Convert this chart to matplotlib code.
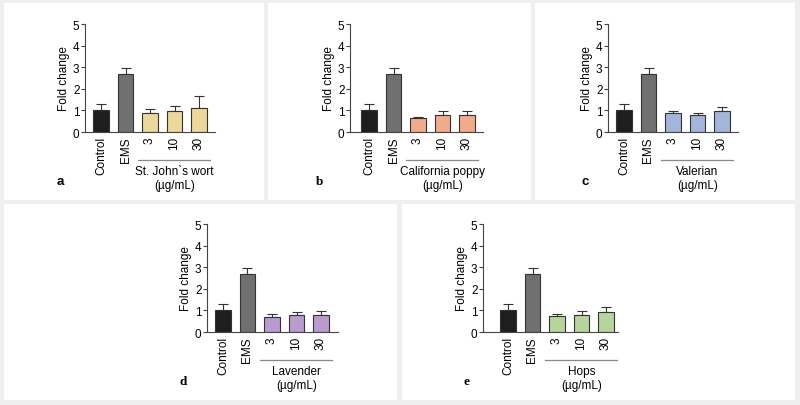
import matplotlib
matplotlib.use('Agg')
import matplotlib.pyplot as plt
from matplotlib.patches import Rectangle

plt.rcParams['font.family'] = ['Liberation Sans', 'DejaVu Sans']

W, H = 800, 406

groups = ['Control', 'EMS', '3', '10', '30']
herbs = ['St. John`s wort', 'California poppy', 'Valerian', 'Lavender', 'Hops']
letters = ['a', 'b', 'c', 'd', 'e']
herb_colors = ['#ecd898', '#f2aa8a', '#a4b5dc', '#b99bd0', '#b6d49b']

means_a = [1.0, 2.7, 0.87, 0.95, 1.1]
errs_a = [0.3, 0.27, 0.2, 0.25, 0.57]
means_b = [1.0, 2.7, 0.66, 0.8, 0.8]
errs_b = [0.3, 0.27, 0.03, 0.15, 0.18]
means_c = [1.0, 2.7, 0.87, 0.77, 0.97]
errs_c = [0.3, 0.27, 0.08, 0.12, 0.17]
means_d = [1.0, 2.7, 0.7, 0.8, 0.77]
errs_d = [0.3, 0.27, 0.13, 0.12, 0.18]
means_e = [1.0, 2.7, 0.75, 0.8, 0.92]
errs_e = [0.3, 0.27, 0.1, 0.15, 0.25]

all_means = [means_a, means_b, means_c, means_d, means_e]
all_errs = [errs_a, errs_b, errs_c, errs_d, errs_e]

# layout in pixels (left edge of axis, control bar centre, right end, y of value 5, letter pos)
layout = [
    (85, 101, 215, 25, (60, 182)),
    (350, 369, 483, 25, (320, 182)),
    (608, 624, 738, 25, (585, 182)),
    (207, 223, 338, 225, (183, 382)),
    (483, 508, 618, 225, (467, 382)),
]
panels = [(4, 4, 264, 201), (268, 4, 531, 201), (535, 4, 795, 201),
          (4, 205, 397, 401), (402, 205, 795, 401)]

unit = 24.5   # px per bar slot
yh = 108      # px for 0..5
fs = 8.5

fig = plt.figure(figsize=(8, 4.06), dpi=100, facecolor='#efefef')

for x0, y0, x1, y1 in panels:
    fig.add_artist(Rectangle((x0 / W, 1 - y1 / H), (x1 - x0) / W, (y1 - y0) / H,
                             transform=fig.transFigure, facecolor='white',
                             edgecolor='none', zorder=0))

for i in range(5):
    axx, cx, endx, ytop, (lx, ly) = layout[i]
    ax = fig.add_axes([axx / W, 1 - (ytop + yh) / H, (endx - axx) / W, yh / H])
    ax.set_facecolor('none')
    xs = list(range(5))
    cols = ['#1e1e1e', '#707070'] + [herb_colors[i]] * 3
    ax.bar(xs, all_means[i], width=0.62, color=cols, edgecolor='#333333', linewidth=0.8, zorder=2)
    ax.errorbar(xs, all_means[i], yerr=[[0] * 5, all_errs[i]], fmt='none', ecolor='#333333',
                elinewidth=0.8, capsize=3.5, capthick=0.8, zorder=1)
    left = -(cx - axx) / unit
    ax.set_xlim(left, left + (endx - axx) / unit)
    ax.set_ylim(0, 5)
    ax.set_yticks([0, 1, 2, 3, 4, 5])
    ax.set_xticks(xs)
    ax.set_xticklabels(groups, rotation=90, fontsize=fs)
    ax.tick_params(axis='x', length=0, pad=3)
    ax.tick_params(axis='y', length=3, width=0.8, labelsize=fs, pad=1, color='#444444')
    for s in ['top', 'right']:
        ax.spines[s].set_visible(False)
    for s in ['left', 'bottom']:
        ax.spines[s].set_color('#444444')
        ax.spines[s].set_linewidth(0.8)
    ax.set_ylabel('Fold change', fontsize=fs, labelpad=2)
    tr = ax.get_xaxis_transform()
    ax.plot([1.5, 4.45], [-28 / yh, -28 / yh], color='#888888', lw=0.9,
            transform=tr, clip_on=False)
    ax.text(3, -33 / yh, herbs[i] + '\n(µg/mL)', transform=tr, ha='center', va='top',
            fontsize=fs, linespacing=1.2)
    fam = 'Liberation Sans' if letters[i] in ('a', 'c') else 'Liberation Serif'
    fig.text(lx / W, 1 - ly / H, letters[i], ha='center', va='center',
             fontsize=9.5, fontweight='bold', family=fam)

fig.savefig('out.png', dpi=100, facecolor=fig.get_facecolor())
